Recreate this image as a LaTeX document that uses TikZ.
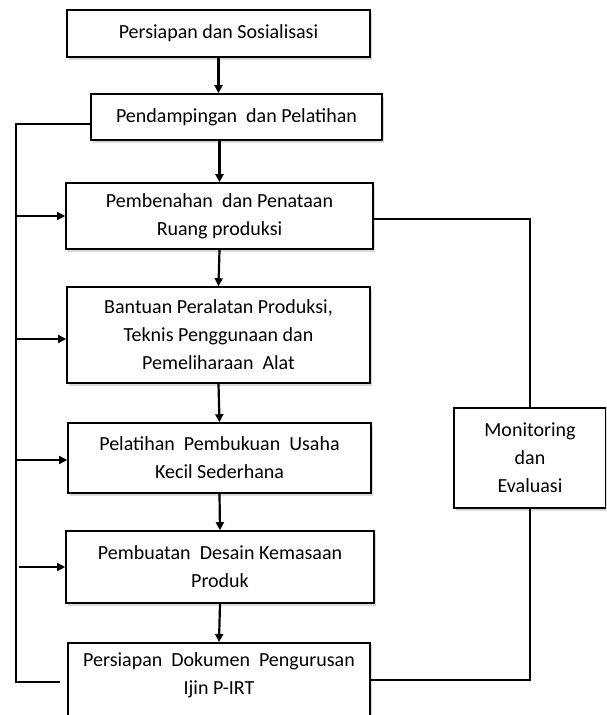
\documentclass[tikz,border=0pt]{standalone}
\usepackage{fontspec}
\setmainfont{Carlito}
\usetikzlibrary{arrows.meta,shadows}
\tikzset{
  box/.style={draw=black, line width=1.6pt, fill=white, align=center,
    font=\fontsize{20}{28}\selectfont, inner sep=0pt,
    drop shadow={opacity=0.3, shadow xshift=1.5pt, shadow yshift=-2.5pt}},
  flow/.style={line width=2.2pt, -{Triangle[length=8pt,width=8pt]}},
  feed/.style={line width=1.5pt, -{Triangle[length=8pt,width=8pt]}},
  link/.style={line width=1.5pt},
  lbl/.style={align=center, font=\fontsize{20}{28}\selectfont, inner sep=0pt}
}
\begin{document}
\begin{tikzpicture}[x=1pt,y=-1pt]
\useasboundingbox (0,0) rectangle (606,715);
\clip (0,0) rectangle (606,715);
\node[box, minimum width=303pt, minimum height=47pt] (b1) at (218.5,33.5) {Persiapan dan Sosialisasi};
\node[box, minimum width=291pt, minimum height=46pt] (b2) at (236.5,117) {Pendampingan\ \ dan Pelatihan};
\node[box, minimum width=307pt, minimum height=66pt] (b3) at (219.5,216) {Pembenahan\ \ dan Penataan\\Ruang produksi};
\node[box, minimum width=303pt, minimum height=96pt] (b4) at (218.5,335) {Bantuan Peralatan Produksi,\\Teknis Penggunaan dan\\Pemeliharaan\ \ Alat};
\node[box, minimum width=303pt, minimum height=70pt] (b5) at (219.5,458) {Pelatihan\ \ Pembukuan\ \ Usaha\\Kecil Sederhana};
\node[box, minimum width=308pt, minimum height=72pt] (b6) at (220,567) {Pembuatan\ \ Desain Kemasaan\\Produk};
\node[box, minimum width=302pt, minimum height=100pt, anchor=north] (b7) at (219,642) {};
\node[lbl] (b7t) at (219,675.5) {Persiapan\ \ Dokumen\ \ Pengurusan\\Ijin P-IRT};
\node[box, minimum width=152pt, minimum height=100pt] (mon) at (530,458) {Monitoring\\dan\\Evaluasi};

\draw[flow] (b1.south) -- (b1.south |- b2.north);
\draw[flow] (b3.north |- b2.south) -- (b3.north);
\draw[flow] (b3.south) -- (b4.north);
\draw[flow] (b4.south) -- (b5.north);
\draw[flow] (b5.south) -- (b6.north);
\draw[flow] (b6.south) -- (b7.north);

\coordinate (Lt) at (16,124);
\coordinate (Lb) at (16,682);
\draw[link] (b2.west |- Lt) -- (Lt) -- (Lb) -- (60,682);
\draw[feed] (b3.west -| Lt) -- (b3.west);
\draw[feed] ([yshift=-4pt]b4.west -| Lt) -- ([yshift=-4pt]b4.west);
\draw[feed] ([yshift=-2pt]b5.west -| Lt) -- ([yshift=-2pt]b5.west);
\draw[feed] ([xshift=3pt]b6.west -| Lt) -- (b6.west);

\draw[link] ([yshift=-3pt]b3.east) -| (mon.north);
\draw[link] (b7.east |- 0,680) -| (mon.south);
\end{tikzpicture}
\end{document}
